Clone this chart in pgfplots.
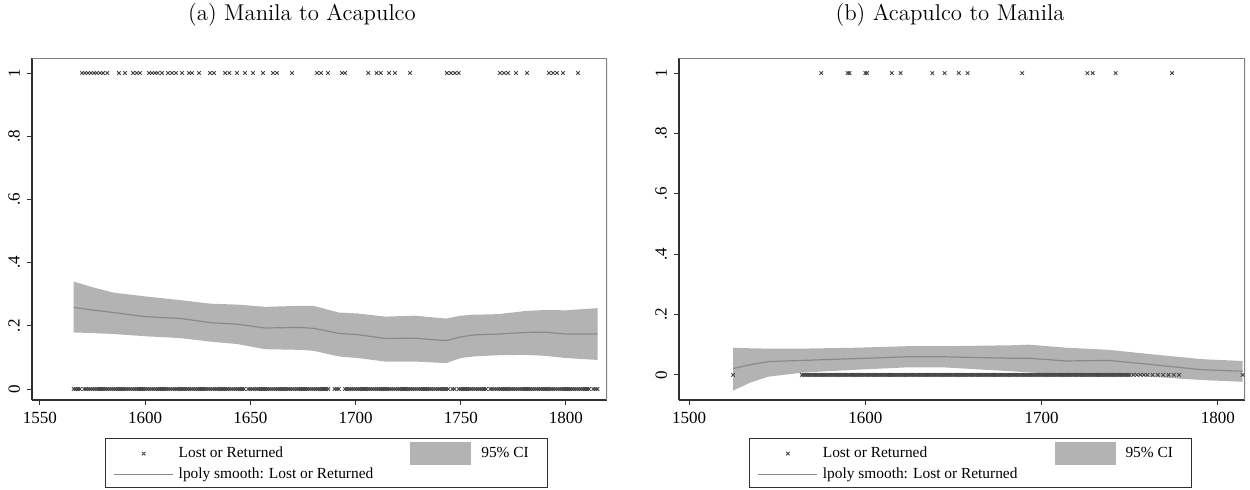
\documentclass[border=0pt]{standalone}
\usepackage{pgfplots}
\pgfplotsset{compat=1.18}
\usepgfplotslibrary{fillbetween}
\usepackage{pgfplotstable}
\usepackage{fontspec}
\newfontfamily\tnr{Liberation Serif}
\newcommand\titlefont{\fontsize{11.4}{13.7}\selectfont}
\newcommand\tickfont{\tnr\fontsize{8.5}{10}\selectfont}
\newcommand\legfont{\tnr\fontsize{7.7}{9}\selectfont}
\definecolor{bandc}{HTML}{B3B3B3}
\definecolor{lnc}{HTML}{8A8A8A}
\definecolor{mkc}{HTML}{454545}
\definecolor{axc}{HTML}{303030}
\definecolor{framec}{HTML}{808080}
\definecolor{legc}{HTML}{303030}

\pgfplotstableread{
year lo mid hi
1566 0.179 0.258 0.340
1575 0.177 0.250 0.322
1585 0.174 0.242 0.305
1600 0.167 0.229 0.293
1617 0.161 0.223 0.281
1631 0.150 0.210 0.270
1644 0.142 0.205 0.267
1657 0.126 0.193 0.260
1673 0.124 0.195 0.263
1680 0.121 0.192 0.263
1692 0.103 0.176 0.242
1701 0.098 0.172 0.239
1714 0.087 0.160 0.229
1728 0.087 0.161 0.232
1743 0.082 0.153 0.223
1750 0.098 0.165 0.232
1756 0.103 0.171 0.235
1768 0.107 0.174 0.237
1781 0.108 0.179 0.247
1790 0.105 0.180 0.250
1800 0.098 0.174 0.249
1815 0.092 0.174 0.256
}\bandA

\pgfplotstableread{
year lo mid hi
1525 -0.052 0.021 0.090
1535 -0.025 0.034 0.088
1545 -0.006 0.044 0.087
1565 0.008 0.048 0.087
1595 0.017 0.054 0.090
1624 0.025 0.060 0.095
1644 0.025 0.060 0.095
1683 0.012 0.055 0.098
1693 0.008 0.055 0.100
1714 0.002 0.046 0.090
1738 0.006 0.048 0.083
1761 -0.006 0.035 0.069
1791 -0.017 0.017 0.052
1814 -0.023 0.012 0.046
}\bandB

\pgfplotsset{
  common/.style={
    scale only axis,
    axis x line*=bottom, axis y line*=left,
    axis line style={draw=axc, line width=0.6pt},
    tick align=outside, major tick length=2.5pt,
    tick style={draw=axc, line width=0.5pt},
    ytick={0,0.2,0.4,0.6,0.8,1}, yticklabels={0,.2,.4,.6,.8,1},
    yticklabel style={rotate=90, anchor=south, font=\tickfont},
    xticklabel style={font=\tickfont},
    legend columns=2, legend cell align=left,
    legend style={font=\legfont, draw=legc, line width=0.5pt,
      inner xsep=4pt, inner ysep=2pt, row sep=0pt, column sep=0pt,
      nodes={inner ysep=1.2pt, inner xsep=2.5pt},
      /tikz/every even column/.append style={column sep=16pt}},
  },
  mk/.style={only marks, mark=x, mark size=1.25pt, color=mkc, line width=0.45pt},
}

\newcommand\legendstuff{%
  \addlegendimage{legend image code/.code={\draw[mkc, line width=0.45pt] plot[only marks, mark=x, mark size=1.25pt] coordinates {(14.75pt,0pt)};}}
  \addlegendentry{Lost or Returned}
  \addlegendimage{legend image code/.code={\fill[bandc] (0pt,-5.5pt) rectangle (30pt,5.5pt);}}
  \addlegendentry{\hspace*{2.5pt}95\% CI\hspace*{3pt}}
  \addlegendimage{legend image code/.code={\draw[lnc, line width=0.6pt] (0pt,0pt) -- (29.5pt,0pt);}}
  \addlegendentry{lpoly smooth: Lost or Returned}
}

\begin{document}
\begin{tikzpicture}
\node[font=\titlefont] at (151pt,237pt) {(a) Manila to Acapulco};
\node[font=\titlefont] at (475pt,237pt) {(b) Acapulco to Manila};

% ---------------- Panel (a)
\begin{axis}[common, at={(16pt,44.5pt)}, anchor=south west,
  width=287.5pt, height=171pt,
  xmin=1546.2, xmax=1819.5, ymin=-0.0348, ymax=1.0475,
  xtick={1550,1600,1650,1700,1750,1800},
  xticklabels={1550,1600,1650,1700,1750,1800},
  legend style={at={(0.127,-0.11)}, anchor=north west}]
\legendstuff
\addplot[draw=none, name path=upA, forget plot] table[x=year, y=hi] {\bandA};
\addplot[draw=none, name path=loA, forget plot] table[x=year, y=lo] {\bandA};
\addplot[fill=bandc, draw=none, forget plot] fill between[of=upA and loA];
\addplot[mk, forget plot] coordinates {
(1570,1)(1571.4,1)(1572.8,1)(1574.2,1)(1575.7,1)(1577,1)(1578.5,1)(1580,1)(1582,1)
(1587.5,1)(1590.4,1)(1594.2,1)(1596,1)(1597.5,1)(1601.8,1)(1603.2,1)(1604.7,1)(1606,1)
(1608,1)(1610.8,1)(1612.7,1)(1614.6,1)(1617.5,1)(1620.8,1)(1622.2,1)(1625.6,1)
(1630.8,1)(1632.7,1)(1638,1)(1640,1)(1643.6,1)(1647.4,1)(1651.2,1)(1656,1)
(1660.7,1)(1662.6,1)(1669.8,1)(1681.7,1)(1683.6,1)(1686.9,1)(1693.5,1)(1695,1)
(1706,1)(1710,1)(1712,1)(1715.9,1)(1718.7,1)(1725.9,1)(1743.4,1)(1745.3,1)(1747.2,1)
(1749,1)(1768.6,1)(1770.5,1)(1772.4,1)(1776.2,1)(1781.5,1)(1791.9,1)(1793.8,1)
(1795.7,1)(1798.6,1)(1805.7,1)
};
\addplot[mk, forget plot] coordinates {
(1566,0)(1567,0)(1568,0)(1569,0)
(1571,0)(1572,0)(1573,0)(1574,0)(1575,0)(1576,0)(1577,0)(1578,0)(1579,0)
(1580,0)(1581,0)(1582,0)(1583,0)(1584,0)(1585,0)(1586,0)(1587,0)(1588,0)(1589,0)
(1590,0)(1591,0)(1592,0)(1593,0)(1594,0)(1595,0)(1596,0)(1597,0)(1598,0)(1599,0)
(1600,0)(1601,0)(1602,0)(1603,0)(1604,0)(1605,0)(1606,0)(1607,0)(1608,0)(1609,0)
(1610,0)(1611,0)(1612,0)(1613,0)(1614,0)(1615,0)(1616,0)(1617,0)(1618,0)(1619,0)
(1620,0)(1621,0)(1622,0)(1623,0)(1624,0)(1625,0)(1626,0)(1627,0)(1628,0)(1629,0)
(1630,0)(1631,0)(1632,0)(1633,0)(1634,0)(1635,0)(1636,0)(1637,0)(1638,0)(1639,0)
(1640,0)(1641,0)(1642,0)(1643,0)(1644,0)(1645,0)(1646,0)(1647,0)(1649,0)
(1650,0)(1651,0)(1652,0)(1653,0)(1654,0)(1655,0)(1656,0)(1657,0)(1658,0)(1659,0)
(1660,0)(1661,0)(1662,0)(1663,0)(1664,0)(1665,0)(1666,0)(1667,0)(1668,0)(1669,0)
(1670,0)(1671,0)(1672,0)(1673,0)(1674,0)(1675,0)(1676,0)(1677,0)(1678,0)(1679,0)
(1680,0)(1681,0)(1682,0)(1683,0)(1684,0)(1685,0)(1686,0)(1687,0)
(1690,0)(1691,0)(1692,0)
(1695,0)(1696,0)(1697,0)(1698,0)(1699,0)
(1700,0)(1701,0)(1702,0)(1703,0)(1704,0)(1705,0)(1706,0)(1707,0)(1708,0)(1709,0)
(1710,0)(1711,0)(1712,0)(1713,0)(1714,0)(1715,0)(1716,0)(1717,0)(1718,0)(1719,0)
(1720,0)(1721,0)(1722,0)(1723,0)(1724,0)(1725,0)(1726,0)(1727,0)(1728,0)(1729,0)
(1730,0)(1731,0)(1732,0)(1733,0)(1734,0)(1735,0)(1736,0)(1737,0)(1738,0)(1739,0)
(1740,0)(1741,0)(1742,0)(1743,0)(1744,0)(1746,0)(1747,0)(1749,0)
(1750,0)(1751,0)(1752,0)(1753,0)(1754,0)(1755,0)(1756,0)(1757,0)(1758,0)(1759,0)
(1760,0)(1761,0)(1762,0)(1764,0)(1765,0)(1766,0)(1767,0)(1768,0)(1769,0)
(1770,0)(1771,0)(1772,0)(1773,0)(1774,0)(1775,0)(1776,0)(1777,0)(1778,0)(1779,0)
(1780,0)(1781,0)(1782,0)(1783,0)(1784,0)(1785,0)(1786,0)(1787,0)(1788,0)(1789,0)
(1790,0)(1791,0)(1792,0)(1793,0)(1794,0)(1795,0)(1796,0)(1797,0)(1798,0)(1799,0)
(1800,0)(1801,0)(1802,0)(1803,0)(1804,0)(1805,0)(1806,0)(1807,0)(1808,0)(1809,0)
(1810,0)(1811,0)(1813,0)(1814,0)(1815,0)
};
\addplot[lnc, line width=0.6pt, forget plot] table[x=year, y=mid] {\bandA};
\draw[framec, line width=0.6pt] (rel axis cs:0,1) -- (rel axis cs:1,1) -- (rel axis cs:1,0);
\end{axis}

% ---------------- Panel (b)
\begin{axis}[common, at={(339.5pt,44.5pt)}, anchor=south west,
  width=283pt, height=171pt,
  xmin=1494.3, xmax=1815.4, ymin=-0.0833, ymax=1.05,
  xtick={1500,1600,1700,1800},
  xticklabels={1500,1600,1700,1800},
  legend style={at={(0.124,-0.11)}, anchor=north west}]
\legendstuff
\addplot[draw=none, name path=upB, forget plot] table[x=year, y=hi] {\bandB};
\addplot[draw=none, name path=loB, forget plot] table[x=year, y=lo] {\bandB};
\addplot[fill=bandc, draw=none, forget plot] fill between[of=upB and loB];
\addplot[mk, forget plot] coordinates {
(1575,1)(1590,1)(1591,1)(1600,1)(1601,1)(1615,1)(1620,1)(1638,1)(1645,1)
(1653,1)(1658,1)(1689,1)(1726,1)(1729,1)(1742,1)(1774,1)
};
\addplot[mk, forget plot] coordinates {
(1525,0)
(1564,0)(1565,0)(1566,0)(1567,0)(1568,0)(1569,0)
(1570,0)(1571,0)(1572,0)(1573,0)(1574,0)(1575,0)(1576,0)(1577,0)(1578,0)(1579,0)
(1580,0)(1581,0)(1582,0)(1583,0)(1584,0)(1585,0)(1586,0)(1587,0)(1588,0)(1589,0)
(1590,0)(1591,0)(1592,0)(1593,0)(1594,0)(1595,0)(1596,0)(1597,0)(1598,0)(1599,0)
(1600,0)(1601,0)(1602,0)(1603,0)(1604,0)(1605,0)(1606,0)(1607,0)(1608,0)(1609,0)
(1610,0)(1611,0)(1612,0)(1613,0)(1614,0)(1615,0)(1616,0)(1617,0)(1618,0)(1619,0)
(1620,0)(1621,0)(1622,0)(1623,0)(1624,0)(1625,0)(1626,0)(1627,0)(1628,0)(1629,0)
(1630,0)(1631,0)(1632,0)(1633,0)(1634,0)(1635,0)(1636,0)(1637,0)(1638,0)(1639,0)
(1640,0)(1641,0)(1642,0)(1643,0)(1644,0)(1645,0)(1646,0)(1647,0)(1648,0)(1649,0)
(1650,0)(1651,0)(1652,0)(1653,0)(1654,0)(1655,0)(1656,0)(1657,0)(1658,0)(1659,0)
(1660,0)(1661,0)(1662,0)(1663,0)(1664,0)(1665,0)(1666,0)(1667,0)(1668,0)(1669,0)
(1670,0)(1671,0)(1672,0)(1673,0)(1674,0)(1675,0)(1676,0)(1677,0)(1678,0)(1679,0)
(1680,0)(1681,0)(1682,0)(1683,0)(1684,0)(1685,0)(1686,0)(1687,0)(1688,0)(1689,0)
(1690,0)(1691,0)(1692,0)(1693,0)(1694,0)(1695,0)(1696,0)(1697,0)(1698,0)(1699,0)
(1700,0)(1701,0)(1702,0)(1703,0)(1704,0)(1705,0)(1706,0)(1707,0)(1708,0)(1709,0)
(1710,0)(1711,0)(1712,0)(1713,0)(1714,0)(1715,0)(1716,0)(1717,0)(1718,0)(1719,0)
(1720,0)(1721,0)(1722,0)(1723,0)(1724,0)(1725,0)(1726,0)(1727,0)(1728,0)(1729,0)
(1730,0)(1731,0)(1732,0)(1733,0)(1734,0)(1735,0)(1736,0)(1737,0)(1738,0)(1739,0)
(1740,0)(1741,0)(1742,0)(1743,0)(1744,0)(1745,0)(1746,0)(1747,0)(1748,0)(1749,0)
(1750,0)(1752,0)(1754,0)(1756,0)(1758,0)(1760,0)(1763,0)(1766,0)(1769,0)(1772,0)
(1775,0)(1778,0)(1814,0)
};
\addplot[lnc, line width=0.6pt, forget plot] table[x=year, y=mid] {\bandB};
\draw[framec, line width=0.6pt] (rel axis cs:0,1) -- (rel axis cs:1,1) -- (rel axis cs:1,0);
\end{axis}
\pgfresetboundingbox
\useasboundingbox (0,0) rectangle (625pt,244.5pt);
\end{tikzpicture}
\end{document}
